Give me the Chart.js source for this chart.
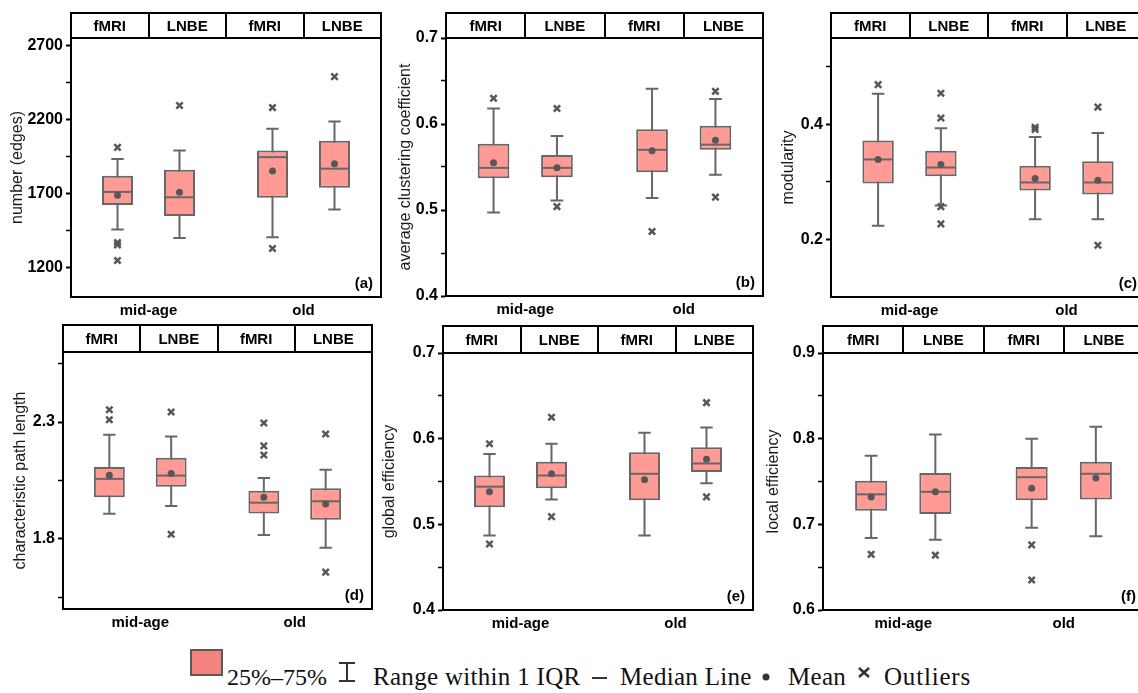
<!DOCTYPE html>
<html><head><meta charset="utf-8">
<script src="https://cdn.jsdelivr.net/npm/chart.js@4.4.1/dist/chart.umd.min.js"></script>
<style>
html,body{margin:0;padding:0;background:#fff;width:1138px;height:693px;overflow:hidden;position:relative}
canvas{position:absolute}
.leg{position:absolute;font-family:"Liberation Serif","Times New Roman",serif;font-size:25px;line-height:25px;letter-spacing:0.3px;color:#111;white-space:nowrap}
</style></head><body>
<canvas id="ca"></canvas><canvas id="cb"></canvas><canvas id="cc"></canvas>
<canvas id="cd"></canvas><canvas id="ce"></canvas><canvas id="cf"></canvas>
<div class="leg" style="left:227px;top:665px;font-size:24px;letter-spacing:0">25%–75%</div>
<div class="leg" style="left:373px;top:664px">Range within 1 IQR</div>
<div class="leg" style="left:620px;top:664px">Median Line</div>
<div class="leg" style="left:788px;top:664px">Mean</div>
<div class="leg" style="left:884px;top:664px;letter-spacing:0.8px">Outliers</div>
<svg style="position:absolute;left:0;top:640px" width="1138" height="53">
 <rect x="191" y="10" width="31" height="25" fill="#F4837E" stroke="#5a5a5a" stroke-width="2"/>
 <g stroke="#333" stroke-width="2" fill="none">
  <line x1="347" y1="23" x2="347" y2="41"/><line x1="339" y1="23" x2="355" y2="23"/><line x1="339" y1="41" x2="355" y2="41"/>
  <line x1="592" y1="38" x2="607" y2="38"/>
  <line x1="859" y1="28" x2="869" y2="37" stroke-width="2.5"/><line x1="869" y1="28" x2="859" y2="37" stroke-width="2.5"/>
 </g>
 <circle cx="766" cy="37" r="3.5" fill="#333"/>
</svg>
<script>
// ---------- categories / labels ----------
const groups = ['mid-age', 'old'];
const methods = ['fMRI', 'LNBE', 'fMRI', 'LNBE'];

// ---------- (a) number of edges ----------
const edgesLow = [1456, 1398, 1404, 1591];
const edgesQ1 = [1622, 1548, 1671, 1739];
const edgesMedian = [1710, 1674, 1945, 1867];
const edgesQ3 = [1820, 1860, 1990, 2055];
const edgesHigh = [1932, 1990, 2136, 2186];
const edgesMean = [1687, 1707, 1851, 1901];
const edgesOutliers = [[2011, 1368, 1352, 1247], [2294], [2280, 1328], [2489]];
const edgesTicks = [1200, 1700, 2200, 2700];
const edgesMinor = [1450, 1950, 2450];

// ---------- (b) average clustering coefficient ----------
const clusLow = [0.497, 0.511, 0.514, 0.541];
const clusQ1 = [0.537, 0.538, 0.544, 0.570];
const clusMedian = [0.549, 0.549, 0.570, 0.576];
const clusQ3 = [0.577, 0.564, 0.594, 0.598];
const clusHigh = [0.618, 0.586, 0.641, 0.629];
const clusMean = [0.555, 0.549, 0.569, 0.581];
const clusOutliers = [[0.630], [0.618, 0.504], [0.475], [0.638, 0.515]];
const clusTicks = [0.4, 0.5, 0.6, 0.7];
const clusMinor = [0.45, 0.55, 0.65];

// ---------- (c) modularity ----------
const modLow = [0.224, 0.259, 0.235, 0.235];
const modQ1 = [0.297, 0.310, 0.285, 0.278];
const modMedian = [0.339, 0.325, 0.299, 0.299];
const modQ3 = [0.372, 0.354, 0.328, 0.336];
const modHigh = [0.453, 0.393, 0.378, 0.385];
const modMean = [0.339, 0.330, 0.306, 0.303];
const modOutliers = [[0.469], [0.454, 0.411, 0.257, 0.227], [0.395, 0.391], [0.430, 0.190]];
const modTicks = [0.2, 0.4];
const modMinor = [0.3, 0.5];

// ---------- (d) characteristic path length ----------
const pathLow = [1.908, 1.941, 1.817, 1.762];
const pathQ1 = [1.978, 2.023, 1.909, 1.882];
const pathMedian = [2.057, 2.071, 1.955, 1.961];
const pathQ3 = [2.108, 2.147, 2.006, 2.017];
const pathHigh = [2.246, 2.238, 2.061, 2.096];
const pathMean = [2.073, 2.080, 1.978, 1.949];
const pathOutliers = [[2.353, 2.310], [2.343, 1.820], [2.296, 2.198, 2.159], [2.249, 1.658]];
const pathTicks = [1.8, 2.3];
const pathMinor = [1.55, 2.05, 2.55];

// ---------- (e) global efficiency ----------
const geLow = [0.487, 0.529, 0.487, 0.548];
const geQ1 = [0.520, 0.542, 0.528, 0.561];
const geMedian = [0.544, 0.557, 0.559, 0.571];
const geQ3 = [0.557, 0.573, 0.584, 0.590];
const geHigh = [0.582, 0.594, 0.607, 0.613];
const geMean = [0.538, 0.559, 0.552, 0.576];
const geOutliers = [[0.594, 0.477], [0.625, 0.509], [], [0.642, 0.532]];
const geTicks = [0.4, 0.5, 0.6, 0.7];
const geMinor = [0.45, 0.55, 0.65];

// ---------- (f) local efficiency ----------
const leLow = [0.684, 0.682, 0.696, 0.686];
const leQ1 = [0.716, 0.712, 0.728, 0.729];
const leMedian = [0.735, 0.738, 0.755, 0.759];
const leQ3 = [0.751, 0.760, 0.767, 0.773];
const leHigh = [0.780, 0.805, 0.800, 0.814];
const leMean = [0.732, 0.738, 0.742, 0.754];
const leOutliers = [[0.665], [0.664], [0.676, 0.635], []];
const leTicks = [0.6, 0.7, 0.8, 0.9];
const leMinor = [0.65, 0.75, 0.85];

// ---------- styling / layout ----------
const FILL = '#FF9A94', LINE = '#676767', MARK = '#575757';
const SANS = '"Liberation Sans", Arial, sans-serif';
const BOX_POS = [1.5, 3.5, 6.5, 8.5];   // slot centres on a 0..10 x scale
const GROUP_POS = [2.5, 7.5];
const HEAD_EDGES = [0, 2.5, 5, 7.5, 10];

const panels = [
 {id:'ca', tag:'(a)', title:'number (edges)', min:1000, max:2750, dec:0,
  lo:edgesLow, q1:edgesQ1, med:edgesMedian, q3:edgesQ3, hi:edgesHigh, mean:edgesMean, out:edgesOutliers, ticks:edgesTicks, minor:edgesMinor,
  geo:{cx:0, cy:0, w:390, h:326, L:71, T:38, R:381, B:297, head:25, tpad:8.4}},
 {id:'cb', tag:'(b)', title:'average clustering coefficient', min:0.4, max:0.7, dec:1,
  lo:clusLow, q1:clusQ1, med:clusMedian, q3:clusQ3, hi:clusHigh, mean:clusMean, out:clusOutliers, ticks:clusTicks, minor:clusMinor,
  geo:{cx:380, cy:0, w:390, h:326, L:446, T:38, R:763, B:296, head:25, tpad:16}},
 {id:'cc', tag:'(c)', title:'modularity', min:0.1, max:0.55, dec:1,
  lo:modLow, q1:modQ1, med:modMedian, q3:modQ3, hi:modHigh, mean:modMean, out:modOutliers, ticks:modTicks, minor:modMinor,
  geo:{cx:760, cy:0, w:392, h:326, L:831, T:38, R:1147, B:297, head:25, tpad:19.4}},
 {id:'cd', tag:'(d)', title:'characteristic path length', min:1.5, max:2.6, dec:1,
  lo:pathLow, q1:pathQ1, med:pathMedian, q3:pathQ3, hi:pathHigh, mean:pathMean, out:pathOutliers, ticks:pathTicks, minor:pathMinor,
  geo:{cx:0, cy:320, w:380, h:322, L:63, T:352, R:372, B:609, head:27, tpad:11.4}},
 {id:'ce', tag:'(e)', title:'global efficiency', min:0.4, max:0.7, dec:1,
  lo:geLow, q1:geQ1, med:geMedian, q3:geQ3, hi:geHigh, mean:geMean, out:geOutliers, ticks:geTicks, minor:geMinor,
  geo:{cx:380, cy:320, w:380, h:322, L:443, T:353, R:753, B:610, head:27, tpad:0.4}},
 {id:'cf', tag:'(f)', title:'local efficiency', min:0.6, max:0.9, dec:1,
  lo:leLow, q1:leQ1, med:leMedian, q3:leQ3, hi:leHigh, mean:leMean, out:leOutliers, ticks:leTicks, minor:leMinor,
  geo:{cx:760, cy:320, w:392, h:322, L:823, T:353, R:1144, B:610, head:27, tpad:3.7}}
];

const near = (a, b) => Math.abs(a - b) < 1e-9;

function makePlugin(p) {
  return {
    id: 'boxExtras' + p.id,
    beforeDatasetsDraw(chart) {
      const {ctx, scales: {x, y}} = chart;
      ctx.save();
      ctx.strokeStyle = LINE; ctx.lineWidth = 2;
      p.lo.forEach((lo, i) => {
        const cx = x.getPixelForValue(BOX_POS[i]);
        const hw = x.getPixelForValue(BOX_POS[i] + 0.2) - cx;
        const yl = y.getPixelForValue(lo), yh = y.getPixelForValue(p.hi[i]);
        ctx.beginPath();
        ctx.moveTo(cx, yl); ctx.lineTo(cx, yh);
        ctx.moveTo(cx - hw, yl); ctx.lineTo(cx + hw, yl);
        ctx.moveTo(cx - hw, yh); ctx.lineTo(cx + hw, yh);
        ctx.stroke();
      });
      ctx.restore();
    },
    afterDatasetDraw(chart, args) {
      if (args.meta.type !== 'bar') return;
      const {ctx, scales: {y}} = chart;
      ctx.save();
      ctx.strokeStyle = LINE; ctx.lineWidth = 2;
      args.meta.data.forEach((bar, i) => {
        const ym = y.getPixelForValue(p.med[i]);
        ctx.beginPath();
        ctx.moveTo(bar.x - bar.width / 2 + 1, ym); ctx.lineTo(bar.x + bar.width / 2 - 1, ym);
        ctx.stroke();
      });
      ctx.restore();
    },
    afterDraw(chart) {
      const {ctx, chartArea: a, scales: {x}} = chart;
      const top = a.top - p.geo.head;
      ctx.save();
      ctx.strokeStyle = '#000'; ctx.lineWidth = 2;
      ctx.strokeRect(a.left, a.top, a.right - a.left, a.bottom - a.top);
      ctx.strokeRect(a.left, top, a.right - a.left, p.geo.head);
      ctx.beginPath();
      HEAD_EDGES.slice(1, -1).forEach(v => {
        const px = Math.round(x.getPixelForValue(v));
        ctx.moveTo(px, top); ctx.lineTo(px, a.top);
      });
      ctx.stroke();
      ctx.fillStyle = '#000';
      ctx.font = 'bold 15px ' + SANS;
      ctx.textAlign = 'center'; ctx.textBaseline = 'middle';
      methods.forEach((m, i) => {
        const c = (HEAD_EDGES[i] + HEAD_EDGES[i + 1]) / 2;
        ctx.fillText(m, x.getPixelForValue(c), top + p.geo.head / 2 + 1);
      });
      ctx.textAlign = 'right';
      ctx.fillText(p.tag, a.right - 8, a.bottom - 13);
      ctx.restore();
    }
  };
}

panels.forEach(p => {
  const g = p.geo;
  const cv = document.getElementById(p.id);
  cv.width = g.w; cv.height = g.h;
  cv.style.left = g.cx + 'px'; cv.style.top = g.cy + 'px';
  const XH = 24;
  const allTicks = [...p.ticks, ...p.minor].sort((a, b) => a - b);
  const outPts = [];
  p.out.forEach((arr, i) => arr.forEach(v => outPts.push({x: BOX_POS[i], y: v})));
  new Chart(cv, {
    type: 'bar',
    data: {
      datasets: [
        {type: 'bar', data: BOX_POS.map((px, i) => ({x: px, y: [p.q1[i], p.q3[i]]})),
         backgroundColor: FILL, borderColor: LINE, borderWidth: 2, borderSkipped: false,
         barPercentage: 0.5, categoryPercentage: 1, order: 2},
        {type: 'scatter', data: BOX_POS.map((px, i) => ({x: px, y: p.mean[i]})),
         pointStyle: 'circle', pointRadius: 3.5, backgroundColor: MARK, borderColor: MARK, borderWidth: 0, order: 0},
        {type: 'scatter', data: outPts,
         pointStyle: 'crossRot', pointRadius: 4.5, borderColor: MARK, backgroundColor: MARK, borderWidth: 2.5, order: 1}
      ]
    },
    options: {
      responsive: false, animation: false, devicePixelRatio: 1,
      layout: {padding: {left: 0, top: g.T - g.cy, right: (g.cx + g.w) - g.R, bottom: (g.cy + g.h) - g.B - XH}},
      plugins: {legend: {display: false}, tooltip: {enabled: false}},
      scales: {
        x: {type: 'linear', min: 0, max: 10, offset: false,
            afterBuildTicks: s => { s.ticks = GROUP_POS.map(v => ({value: v})); },
            afterFit: s => { s.height = XH; },
            ticks: {callback: (v, i) => groups[i], autoSkip: false, maxRotation: 0, padding: 5,
                    color: '#000', font: {family: SANS, size: 15, weight: 'bold'}},
            grid: {display: false, drawTicks: false, tickLength: 0},
            border: {display: true, color: '#000', width: 2}},
        y: {type: 'linear', min: p.min, max: p.max,
            afterBuildTicks: s => { s.ticks = allTicks.map(v => ({value: v})); },
            afterFit: s => { s.width = g.L - g.cx; },
            ticks: {autoSkip: false, padding: 3, color: '#000', font: {family: SANS, size: 16, weight: 'bold'},
                    callback: v => p.ticks.some(t => near(t, v)) ? v.toFixed(p.dec) : ''},
            grid: {drawOnChartArea: false, drawTicks: true, tickLength: 5, tickColor: '#000',
                   tickWidth: c => (c.tick && p.ticks.some(t => near(t, c.tick.value))) ? 2 : 1.5},
            border: {display: true, color: '#000', width: 2},
            title: {display: true, text: p.title, color: '#1a1a1a', font: {family: SANS, size: 16},
                    padding: {top: g.tpad, bottom: 0}}}
      }
    },
    plugins: [makePlugin(p)]
  });
});
</script>
</body></html>
